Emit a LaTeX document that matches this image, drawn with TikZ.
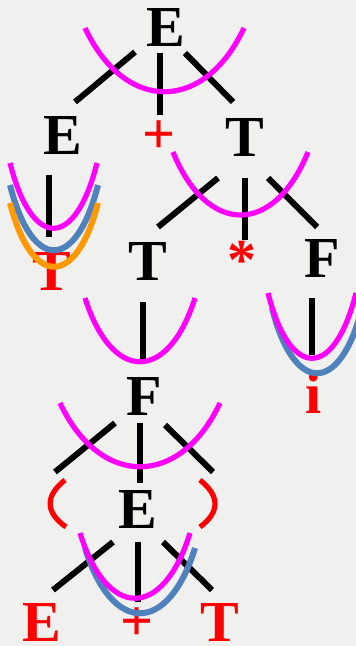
\documentclass[tikz,border=0pt]{standalone}
\usepackage{fontspec}
\setmainfont{Liberation Serif}[BoldFont={Liberation Serif Bold}]
\newfontfamily\symfont{Liberation Serif Bold}
\definecolor{bg}{RGB}{240,240,238}
\definecolor{mag}{RGB}{255,0,255}
\definecolor{blu}{RGB}{79,129,189}
\definecolor{org}{RGB}{255,153,0}
\definecolor{rd}{RGB}{255,0,0}
\begin{document}
\begin{tikzpicture}[x=0.5pt,y=-0.5pt,
  sym/.style={anchor=base,inner sep=0pt,font=\symfont\fontsize{29}{30}\selectfont},
  term/.style={sym,text=rd},
  edge/.style={line width=3pt,black},
  arcm/.style={line width=2.6pt,mag},
  arcb/.style={line width=3pt,blu},
  arco/.style={line width=3pt,org},
  paren/.style={line width=2.6pt,rd}]
\fill[bg] (0,0) rectangle (356,646);
\useasboundingbox (0,0) rectangle (356,646);
% symbols
\node[sym] (E0) at (166,47) {E};
\node[sym] (E1) at (63,155) {E};
\node[term] (P1) at (159,154) {+};
\node[sym] (T1) at (245,157) {T};
\node[term] (T2) at (52,290) {T};
\node[sym] (T3) at (148,280) {T};
\node[term] (S1) at (242,279) {*};
\node[sym] (F1) at (322,278) {F};
\node[sym] (F2) at (144,415) {F};
\node[term] (I1) at (314,413) {i};
\node[sym] (E2) at (138,528) {E};
\node[term] (E3) at (42,641) {E};
\node[term] (P2) at (137,640) {+};
\node[term] (T4) at (220,641) {T};
% connector ends
\coordinate (a1) at (135,52); \coordinate (a2) at (75,102);
\coordinate (b1) at (160,53); \coordinate (b2) at (160,115);
\coordinate (c1) at (185,53); \coordinate (c2) at (233,102);
\coordinate (d1) at (49,175); \coordinate (d2) at (49,237);
\coordinate (e1) at (218,178); \coordinate (e2) at (158,227);
\coordinate (f1) at (245,178); \coordinate (f2) at (245,240);
\coordinate (g1) at (268,178); \coordinate (g2) at (317,227);
\coordinate (h1) at (143,302); \coordinate (h2) at (143,360);
\coordinate (k1) at (312,298); \coordinate (k2) at (312,355);
\coordinate (l1) at (115,423); \coordinate (l2) at (55,472);
\coordinate (m1) at (140,423); \coordinate (m2) at (140,483);
\coordinate (n1) at (165,425); \coordinate (n2) at (213,472);
\coordinate (o1) at (113,542); \coordinate (o2) at (53,590);
\coordinate (p1) at (138,542); \coordinate (p2) at (138,602);
\coordinate (q1) at (163,542); \coordinate (q2) at (212,590);
\foreach \s in {a,b,c,d,e,f,g,h,k,l,m,n,o,p,q}
  \draw[edge] (\s1) -- (\s2);
% parentheses
\draw[paren] (65,480) .. controls (45,496) and (45,512) .. (66,527);
\draw[paren] (200,480) .. controls (220,496) and (220,512) .. (200,527);
% handle curves
\draw[arcm] (85,28) .. controls (125,113) and (204,113) .. (244,28);
\draw[arcm] (10,163) .. controls (32,250) and (75,250) .. (97,163);
\draw[arcb] (10,185) .. controls (32,272) and (76,272) .. (98,185);
\draw[arco] (10,203) .. controls (32,288) and (76,288) .. (98,203);
\draw[arcm] (173,152) .. controls (207,236) and (274,236) .. (308,152);
\draw[arcm] (85,298) .. controls (112,383) and (168,383) .. (195,298);
\draw[arcb] (272,308) .. controls (294,395) and (340,395) .. (362,308);
\draw[arcm] (268,293) .. controls (290,380) and (334,380) .. (356,293);
\draw[arcm] (60,403) .. controls (100,488) and (180,488) .. (220,403);
\draw[arcb] (85,548) .. controls (112,635) and (168,635) .. (195,548);
\draw[arcm] (80,533) .. controls (107,620) and (163,620) .. (190,533);
\end{tikzpicture}
\end{document}
